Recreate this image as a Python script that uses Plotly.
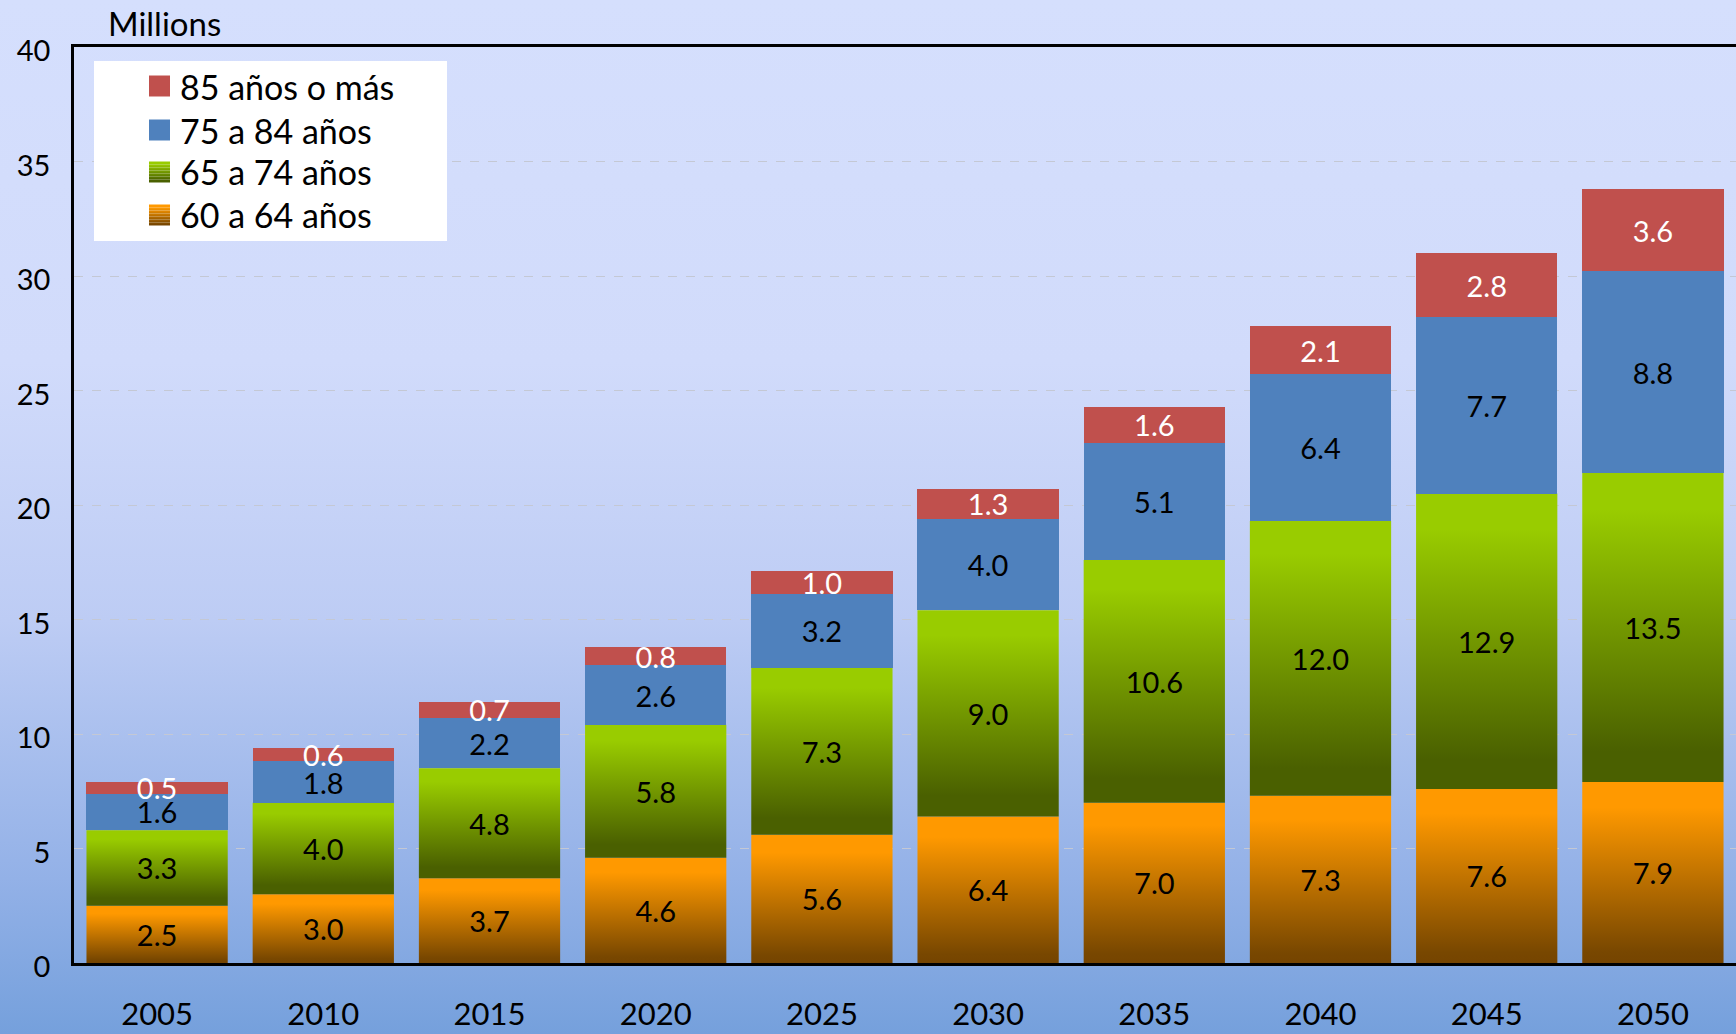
import base64
import plotly.graph_objects as go

# ---------------- data ----------------
years = ["2005", "2010", "2015", "2020", "2025", "2030", "2035", "2040", "2045", "2050"]
age_60_64 = [2.5, 3.0, 3.7, 4.6, 5.6, 6.4, 7.0, 7.3, 7.6, 7.9]
age_65_74 = [3.3, 4.0, 4.8, 5.8, 7.3, 9.0, 10.6, 12.0, 12.9, 13.5]
age_75_84 = [1.6, 1.8, 2.2, 2.6, 3.2, 4.0, 5.1, 6.4, 7.7, 8.8]
age_85_plus = [0.5, 0.6, 0.7, 0.8, 1.0, 1.3, 1.6, 2.1, 2.8, 3.6]
series_names = ["60 a 64 años", "65 a 74 años", "75 a 84 años", "85 años o más"]
y_ticks = [0, 5, 10, 15, 20, 25, 30, 35, 40]
y_title = "Millions"

# ---------------- style ----------------
W, H = 1736, 1034
ML, MR, MT, MB = 74, 0, 47, 71
PW, PH = W - ML - MR, H - MT - MB
FONT = "Lato"
BAR_W = 0.85

ORANGE_SCALE = [[0, "#754400"], [0.06, "#784700"], [0.86, "#ff9900"], [1, "#ff9900"]]
GREEN_SCALE = [[0, "#4a6000"], [0.1, "#4a6000"], [0.88, "#99cc00"], [1, "#99cc00"]]
BLUE = "#4f81bd"
RED = "#c0504d"

idx = list(range(len(years)))


def px_x(p):
    return (p - ML) / PW


def px_y(p):
    return 1 - (p - MT) / PH


fig = go.Figure()

# gradient-filled segments (drawn on the main axes, below the bar layer)
base_orange = [0.0] * len(years)
base_green = [a for a in age_60_64]
for vals, bases, scale in ((age_60_64, base_orange, ORANGE_SCALE), (age_65_74, base_green, GREEN_SCALE)):
    for i, (v, b) in enumerate(zip(vals, bases)):
        fig.add_trace(go.Scatter(
            x=[i - BAR_W / 2, i + BAR_W / 2, i + BAR_W / 2, i - BAR_W / 2, i - BAR_W / 2],
            y=[b, b, b + v, b + v, b],
            mode="lines", line=dict(width=0), fill="toself",
            fillgradient=dict(type="vertical", colorscale=scale, start=b, stop=b + v),
            hoverinfo="skip", showlegend=False, xaxis="x", yaxis="y",
        ))

# stacked bars (overlay axes so their labels sit on top)
bar_specs = [
    (series_names[0], age_60_64, "rgba(0,0,0,0)", "black"),
    (series_names[1], age_65_74, "rgba(0,0,0,0)", "black"),
    (series_names[2], age_75_84, BLUE, "black"),
    (series_names[3], age_85_plus, RED, "white"),
]
for name, vals, col, tcol in bar_specs:
    fig.add_trace(go.Bar(
        x=idx, y=vals, name=name, width=BAR_W,
        marker=dict(color=col, line=dict(width=0)),
        texttemplate="%{y:.1f}", textposition="inside", insidetextanchor="middle",
        textangle=0, textfont=dict(family=FONT, size=29, color=tcol),
        xaxis="x2", yaxis="y2", showlegend=False,
        hovertemplate="%{customdata}<br>" + name + ": %{y:.1f}<extra></extra>",
        customdata=years,
    ))

# ---------------- background gradient ----------------
svg = (
    '<svg xmlns="http://www.w3.org/2000/svg" width="10" height="100" viewBox="0 0 10 100" '
    'preserveAspectRatio="none"><defs><linearGradient id="g" x1="0" y1="0" x2="0" y2="1">'
    '<stop offset="0" stop-color="#d5dffd"/>'
    '<stop offset="0.35" stop-color="#d1dbfb"/>'
    '<stop offset="0.6" stop-color="#bdccf4"/>'
    '<stop offset="0.85" stop-color="#93b1e7"/>'
    '<stop offset="1" stop-color="#75a0dc"/>'
    '</linearGradient></defs><rect x="0" y="0" width="10" height="100" fill="url(#g)"/></svg>'
)
src = "data:image/svg+xml;base64," + base64.b64encode(svg.encode()).decode()

# ---------------- custom legend ----------------
shapes = [dict(type="rect", xref="paper", yref="paper",
               x0=px_x(94), x1=px_x(447), y0=px_y(241), y1=px_y(61),
               fillcolor="white", line=dict(width=0), layer="above")]
annotations = []


def lerp_scale(scale, t):
    for (a, ca), (b, cb) in zip(scale[:-1], scale[1:]):
        if a <= t <= b:
            f = 0 if b == a else (t - a) / (b - a)
            c1 = [int(ca[k:k + 2], 16) for k in (1, 3, 5)]
            c2 = [int(cb[k:k + 2], 16) for k in (1, 3, 5)]
            return "#" + "".join(f"{round(u + (v - u) * f):02x}" for u, v in zip(c1, c2))
    return scale[-1][1]


legend_rows = [
    (series_names[3], 86, RED),
    (series_names[2], 130, BLUE),
    (series_names[1], 172, GREEN_SCALE),
    (series_names[0], 215, ORANGE_SCALE),
]
sw = 21
for name, cy, col in legend_rows:
    top, bot = cy - sw / 2, cy + sw / 2
    if isinstance(col, str):
        shapes.append(dict(type="rect", xref="paper", yref="paper",
                           x0=px_x(149), x1=px_x(149 + sw), y0=px_y(bot), y1=px_y(top),
                           fillcolor=col, line=dict(width=0), layer="above"))
    else:
        nb = 14
        for k in range(nb):
            t0 = top + k * sw / nb
            t1 = top + (k + 1) * sw / nb
            shapes.append(dict(type="rect", xref="paper", yref="paper",
                               x0=px_x(149), x1=px_x(149 + sw), y0=px_y(t1), y1=px_y(t0),
                               fillcolor=lerp_scale(col, 1 - (k + 0.5) / nb),
                               line=dict(width=0), layer="above"))
    annotations.append(dict(text=name, xref="paper", yref="paper", x=px_x(178), y=px_y(cy),
                            xanchor="left", yanchor="middle", showarrow=False,
                            font=dict(family=FONT, size=34, color="black")))

annotations.append(dict(text=y_title, xref="paper", yref="paper", x=px_x(106), y=px_y(23),
                        xanchor="left", yanchor="middle", showarrow=False,
                        font=dict(family=FONT, size=33, color="black")))

fig.update_layout(
    width=W, height=H,
    margin=dict(l=ML, r=MR, t=MT, b=MB, pad=0),
    paper_bgcolor="#c0cef5", plot_bgcolor="rgba(0,0,0,0)",
    barmode="stack",
    uniformtext=dict(minsize=29, mode="show"),
    font=dict(family=FONT, size=30, color="black"),
    showlegend=False,
    xaxis=dict(range=[-0.5, len(years) - 0.5], tickvals=idx, ticktext=years,
               showgrid=False, zeroline=False, showline=True, linecolor="black",
               linewidth=2.5, mirror=True, ticks="", ticklabelstandoff=22,
               automargin=False, tickfont=dict(family=FONT, size=31)),
    yaxis=dict(range=[0, 40], tickvals=y_ticks, showgrid=True, gridcolor="#c4c8d4",
               griddash="dash", gridwidth=1, zeroline=False, showline=True,
               linecolor="black", linewidth=2.5, ticks="", ticklabelstandoff=15,
               ticklabelshift=4, automargin=False, tickfont=dict(family=FONT, size=29)),
    xaxis2=dict(range=[-0.5, len(years) - 0.5], overlaying="x", visible=False),
    yaxis2=dict(range=[0, 40], overlaying="y", visible=False),
    images=[dict(source=src, xref="paper", yref="paper", x=-ML / PW, y=1 + MT / PH,
                 sizex=W / PW, sizey=H / PH, xanchor="left", yanchor="top",
                 sizing="stretch", layer="below")],
    shapes=shapes,
    annotations=annotations,
)

fig.write_html(
    "out.html",
    config={"displayModeBar": False},
    post_script=(
        "document.body.style.margin='0px';"
        "document.body.style.overflow='hidden';"
        "document.body.style.background='#75a0dc';"
    ),
)
